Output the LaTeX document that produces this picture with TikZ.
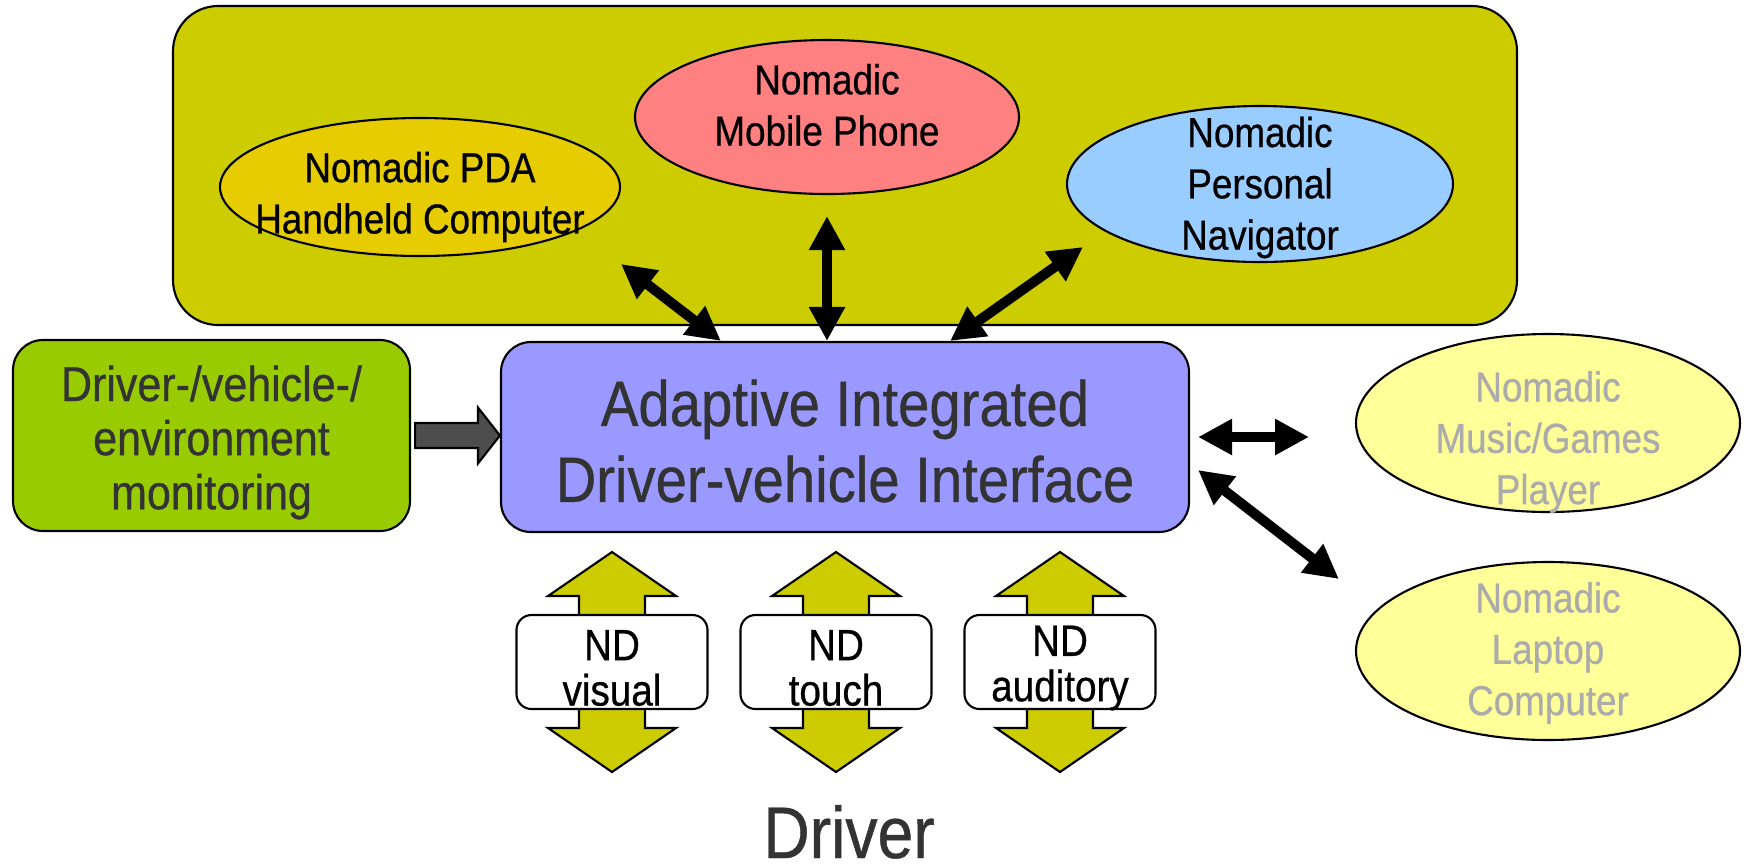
\documentclass[tikz,border=0pt]{standalone}
\usepackage{fontspec}
\setmainfont[FakeStretch=0.88,FakeBold=0.6]{Liberation Sans}
\usetikzlibrary{shapes.geometric,arrows.meta,calc,backgrounds}

\definecolor{panelolive}{HTML}{CCCC00}
\definecolor{pdagold}{HTML}{E6CC00}
\definecolor{phonered}{HTML}{FF8080}
\definecolor{navblue}{HTML}{99CCFF}
\definecolor{aidviblue}{HTML}{9999FF}
\definecolor{monitorgreen}{HTML}{99CC00}
\definecolor{paleyellow}{HTML}{FFFF99}
\definecolor{palegray}{HTML}{ABABAB}
\definecolor{darktext}{HTML}{333333}
\definecolor{arrowgray}{HTML}{4D4D4D}

\tikzset{
  device/.style={ellipse, draw, line width=0.6pt, inner sep=0pt},
  devtext/.style={align=center, inner sep=0pt, font=\fontsize{11.9}{14.6}\selectfont},
  block/.style={rectangle, draw, line width=0.6pt, rounded corners=0.3cm,
    inner sep=0pt, align=center},
  ndbox/.style={block, fill=white, rounded corners=0.15cm, minimum width=1.91cm,
    minimum height=0.94cm},
  ndtext/.style={align=center, inner sep=0pt, yshift=-0.06cm,
    font=\fontsize{12.5}{12.9}\selectfont},
  biarrow/.style={line width=0.1cm,
    {Triangle[width=0.34cm,length=0.34cm]}-{Triangle[width=0.34cm,length=0.34cm]}},
  ndarrow/.style={draw, line width=0.6pt, fill=panelolive},
  inarrow/.style={draw, line width=0.6pt, fill=arrowgray}
}

% double block arrow behind an ND box
\newcommand{\ndboth}[1]{%
  \draw[ndarrow] ($(#1)+(0,1.10)$) -- ++(-0.64,-0.44) -- ++(0.31,0) -- ++(0,-1.32)
    -- ++(-0.31,0) -- ++(0.64,-0.44) -- ++(0.64,0.44) -- ++(-0.31,0) -- ++(0,1.32)
    -- ++(0.31,0) -- cycle;}

\begin{document}
\begin{tikzpicture}
\useasboundingbox (0,0) rectangle (17.46,-8.65);

% nomadic devices group
\node[block, fill=panelolive, rounded corners=0.45cm, minimum width=13.44cm,
  minimum height=3.19cm] (group) at (8.45,-1.655) {};

\node[device, fill=pdagold, minimum width=4.0cm, minimum height=1.38cm,
  label={[devtext, yshift=-0.1cm]center:{Nomadic PDA\\Handheld Computer}}] (pda) at (4.20,-1.87) {};
\node[device, fill=phonered, minimum width=3.84cm, minimum height=1.54cm,
  label={[devtext, yshift=0.12cm]center:{Nomadic\\Mobile Phone}}] (phone) at (8.27,-1.17) {};
\node[device, fill=navblue, minimum width=3.86cm, minimum height=1.56cm,
  label={[devtext, yshift=-0.035cm]center:{Nomadic\\Personal\\Navigator}}] (nav) at (12.60,-1.84) {};

% interface and monitoring
\node[block, fill=aidviblue, minimum width=6.88cm, minimum height=1.90cm,
  label={[align=center, text=darktext, yshift=-0.04cm,
    font=\fontsize{18.2}{21.6}\selectfont]center:{Adaptive Integrated\\Driver-vehicle Interface}}]
  (aidvi) at (8.45,-4.37) {};
\node[block, fill=monitorgreen, minimum width=3.97cm, minimum height=1.91cm,
  label={[align=center, text=darktext, yshift=-0.07cm,
    font=\fontsize{13.9}{15.4}\selectfont]center:{Driver-/vehicle-/\\environment\\monitoring}}]
  (monitor) at (2.115,-4.355) {};

% other nomadic devices
\node[device, fill=paleyellow, minimum width=3.84cm, minimum height=1.78cm,
  label={[devtext, text=palegray, yshift=-0.19cm]center:{Nomadic\\Music/Games\\Player}}] (music) at (15.48,-4.23) {};
\node[device, fill=paleyellow, minimum width=3.84cm, minimum height=1.78cm,
  label={[devtext, text=palegray, yshift=-0.02cm]center:{Nomadic\\Laptop\\Computer}}] (laptop) at (15.48,-6.51) {};

% ND channels
\node[ndbox, label={[ndtext]center:{ND\\visual}}] (ndvis) at (6.12,-6.62) {};
\node[ndbox, label={[ndtext]center:{ND\\touch}}] (ndtouch) at (8.36,-6.62) {};
\node[ndbox, label={[ndtext]center:{ND\\auditory}}] (ndaud) at (10.60,-6.62) {};

\node[anchor=base, inner sep=0pt, text=darktext, font=\fontsize{20.8}{25}\selectfont] (driver) at (8.49,-8.58) {Driver};

\begin{scope}[on background layer]
\ndboth{ndvis}
\ndboth{ndtouch}
\ndboth{ndaud}
\end{scope}

% monitoring input
\path ([xshift=0.04cm]monitor.east) coordinate (gain) (aidvi.west |- gain) coordinate (gaout);
\draw[inarrow] ($(gain)+(0,0.125)$) -- ($(gaout)+(-0.22,0.125)$) -- ($(gaout)+(-0.22,0.28)$)
  -- (gaout) -- ($(gaout)+(-0.22,-0.28)$) -- ($(gaout)+(-0.22,-0.125)$)
  -- ($(gain)+(0,-0.125)$) -- cycle;

% links to devices
\draw[biarrow] ([shift={(2.01,-0.77)}]pda.center) -- ([xshift=2.21cm]aidvi.north west);
\draw[biarrow] ([yshift=-0.21cm]phone.south) -- (phone.south |- aidvi.north);
\draw[biarrow] ([shift={(-1.77,-0.63)}]nav.center) -- ([xshift=-2.40cm]aidvi.north east);
\draw[biarrow] ([xshift=0.08cm]aidvi.east) -- ++(1.11,0);
\draw[biarrow] ([shift={(0.08,-0.33)}]aidvi.east) -- ([shift={(-0.16,0.72)}]laptop.west);

\end{tikzpicture}
\end{document}
